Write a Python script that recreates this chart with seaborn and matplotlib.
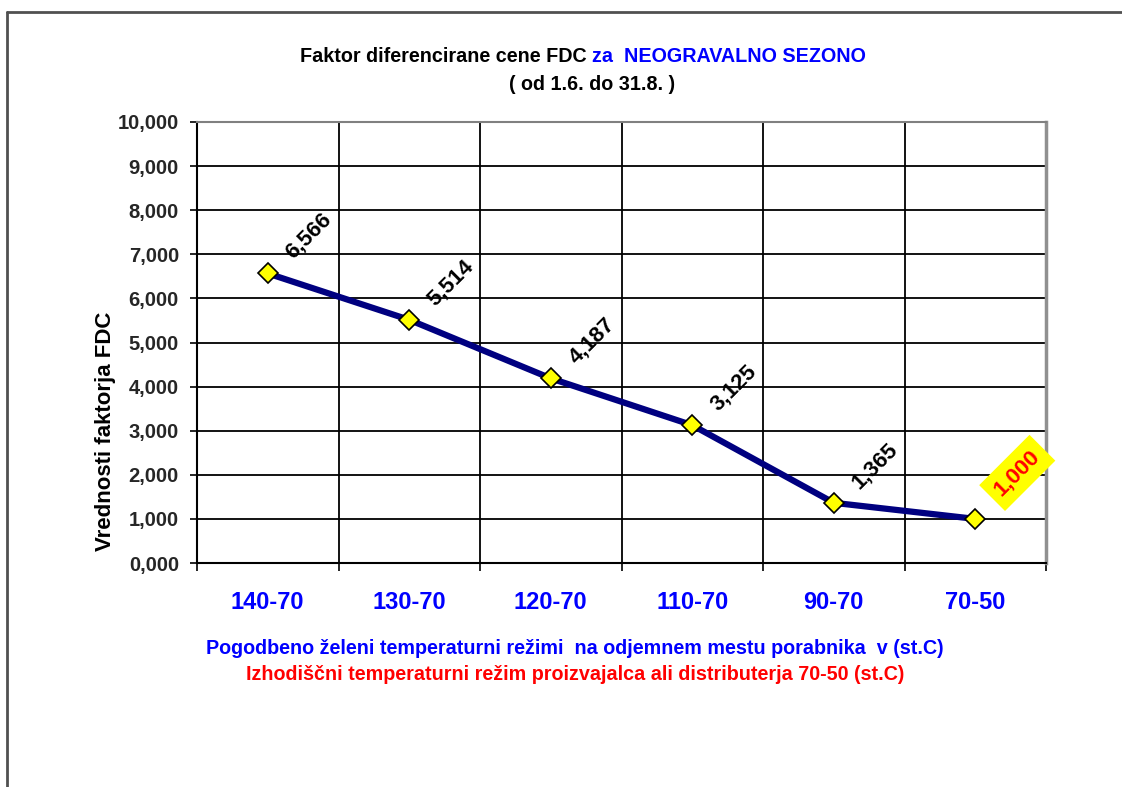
import matplotlib
matplotlib.use("Agg")
import matplotlib.pyplot as plt
import seaborn as sns
import pandas as pd
from matplotlib.lines import Line2D
from matplotlib.ticker import FixedLocator

categories = ["140-70", "130-70", "120-70", "110-70", "90-70", "70-50"]
values = [6.566, 5.514, 4.187, 3.125, 1.365, 1.000]
value_labels = ["6,566", "5,514", "4,187", "3,125", "1,365", "1,000"]
y_ticks = [0, 1, 2, 3, 4, 5, 6, 7, 8, 9, 10]
y_tick_labels = ["0,000", "1,000", "2,000", "3,000", "4,000", "5,000",
                 "6,000", "7,000", "8,000", "9,000", "10,000"]

sns.set_style("white")
plt.rcParams["font.family"] = ["Liberation Sans", "DejaVu Sans"]
plt.rcParams["font.weight"] = "bold"

df = pd.DataFrame({"rezim": categories, "fdc": values})

fig = plt.figure(figsize=(11.22, 7.87), dpi=100)
ax = fig.add_axes([197/1122, 1-563/787, (1046-197)/1122, (563-122)/787])

sns.lineplot(data=df, x="rezim", y="fdc", ax=ax, sort=False, color="#000080",
             linewidth=4.5, marker="D", markersize=10,
             markerfacecolor="#FFFF00", markeredgecolor="black",
             markeredgewidth=1.2, zorder=5)

ax.set_xlim(-0.5, len(categories) - 0.5)
ax.set_ylim(0, 10)
ax.set_yticks(y_ticks)
ax.set_yticklabels(y_tick_labels, fontsize=14.5, fontweight="bold")
ax.set_xticks(range(len(categories)))
ax.set_xticklabels(categories, fontsize=17, fontweight="bold", color="#0000FF")
ax.xaxis.set_minor_locator(FixedLocator([i - 0.5 for i in range(len(categories) + 1)]))
ax.tick_params(axis="x", which="major", length=0, pad=20)
ax.tick_params(axis="x", which="minor", length=6, width=1.2, color="black", direction="out", bottom=True)
ax.tick_params(axis="y", which="major", length=5, width=1.2, color="black", direction="out", left=True, pad=8)

ax.grid(False)
ax.yaxis.grid(True, which="major", color="black", linewidth=1.3)
ax.xaxis.grid(True, which="minor", color="black", linewidth=1.3)
ax.set_axisbelow(True)

ax.set_xlabel("")
ax.set_ylabel("")

for s in ["left", "bottom"]:
    ax.spines[s].set_color("black")
    ax.spines[s].set_linewidth(1.5)
ax.spines["top"].set_color("#808080")
ax.spines["top"].set_linewidth(1.5)
ax.spines["right"].set_color("#909090")
ax.spines["right"].set_linewidth(2.5)

for i, (v, lab) in enumerate(zip(values, value_labels)):
    if i == len(values) - 1:
        ax.annotate(lab, (i, v), xytext=(42, 46), textcoords="offset pixels",
                    rotation=45, ha="center", va="center", fontsize=16,
                    fontweight="bold", color="#FF0000", zorder=6,
                    bbox=dict(boxstyle="square,pad=0.35", fc="#FFFF00", ec="none"))
    else:
        ax.annotate(lab, (i, v), xytext=(41, 37), textcoords="offset pixels",
                    rotation=45, ha="center", va="center", fontsize=16,
                    fontweight="bold", color="black", zorder=6)

# Titles
fig.text(592/1122, 1-57/787, "Faktor diferencirane cene FDC ", fontsize=14.2,
         fontweight="bold", color="black", ha="right", va="center")
fig.text(592/1122, 1-57/787, "za  NEOGRAVALNO SEZONO", fontsize=14.2,
         fontweight="bold", color="#0000FF", ha="left", va="center")
fig.text(592/1122, 1-84/787, "( od 1.6. do 31.8. )", fontsize=14.2,
         fontweight="bold", color="black", ha="center", va="center")

fig.text(105/1122, 1-431/787, "Vrednosti faktorja FDC", fontsize=16,
         fontweight="bold", rotation=90, ha="center", va="center", color="black")

fig.text(575/1122, 1-649/787,
         "Pogodbeno želeni temperaturni režimi  na odjemnem mestu porabnika  v (st.C)",
         fontsize=14.2, fontweight="bold", color="#0000FF", ha="center", va="center")
fig.text(575/1122, 1-675/787,
         "Izhodiščni temperaturni režim proizvajalca ali distributerja 70-50 (st.C)",
         fontsize=14.2, fontweight="bold", color="#FF0000", ha="center", va="center")

# Outer chart frame (left and top edges)
fig.add_artist(Line2D([7/1122, 7/1122], [0, 1-12/787], transform=fig.transFigure,
                      color="#505050", linewidth=2))
fig.add_artist(Line2D([7/1122, 1], [1-12/787, 1-12/787], transform=fig.transFigure,
                      color="#505050", linewidth=2))

fig.savefig("out.png", dpi=100)
